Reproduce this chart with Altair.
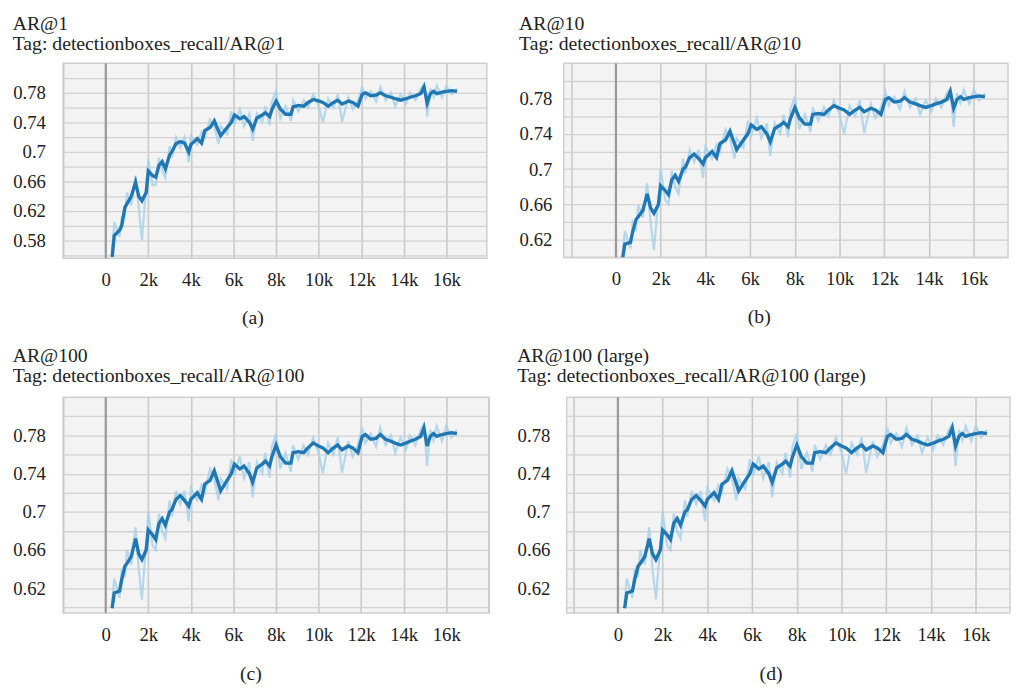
import altair as alt
import pandas as pd

FONT = "Liberation Serif"
FS = 19
TFS = 20

# training steps at which the curves were read
steps = [300, 400, 650, 750, 900, 1000, 1200, 1400, 1550, 1700,
         1900, 2000, 2200, 2350, 2500, 2650, 2800, 3000, 3100, 3300,
         3500, 3700, 3900, 4000, 4300, 4500, 4650, 4900, 5100, 5300,
         5400, 5700, 5900, 6050, 6300, 6500, 6750, 6900, 7100, 7350,
         7500, 7700, 7800, 8000, 8200, 8450, 8700, 8800, 9050, 9300,
         9500, 9750, 10000, 10200, 10450, 10700, 10900, 11100, 11400, 11600,
         11850, 12050, 12200, 12450, 12700, 12900, 13150, 13400, 13600, 13850,
         14100, 14300, 14550, 14800, 14950, 15100, 15250, 15400, 15550, 15800,
         16000, 16250, 16500]

# AR@1 (smoothed and raw)
ar1_smooth = [0.558, 0.587, 0.594, 0.600, 0.625, 0.630, 0.640, 0.659, 0.640, 0.634,
              0.645, 0.674, 0.668, 0.666, 0.682, 0.687, 0.677, 0.696, 0.700, 0.711,
              0.714, 0.712, 0.700, 0.710, 0.718, 0.712, 0.729, 0.733, 0.742, 0.728,
              0.722, 0.733, 0.740, 0.750, 0.745, 0.748, 0.740, 0.731, 0.746, 0.750,
              0.753, 0.748, 0.757, 0.769, 0.758, 0.751, 0.751, 0.761, 0.763, 0.762,
              0.767, 0.771, 0.769, 0.767, 0.762, 0.767, 0.770, 0.765, 0.769, 0.767,
              0.762, 0.778, 0.780, 0.776, 0.777, 0.780, 0.776, 0.774, 0.772, 0.770,
              0.772, 0.774, 0.776, 0.779, 0.788, 0.766, 0.779, 0.782, 0.779, 0.781,
              0.782, 0.783, 0.782]
ar1_raw = [0.565, 0.605, 0.585, 0.612, 0.615, 0.645, 0.628, 0.668, 0.625, 0.580,
           0.655, 0.690, 0.655, 0.655, 0.692, 0.675, 0.665, 0.708, 0.692, 0.720,
           0.706, 0.720, 0.686, 0.722, 0.710, 0.727, 0.719, 0.744, 0.734, 0.711,
           0.735, 0.724, 0.755, 0.738, 0.758, 0.735, 0.752, 0.715, 0.752, 0.740,
           0.762, 0.736, 0.768, 0.782, 0.745, 0.762, 0.742, 0.770, 0.755, 0.770,
           0.760, 0.778, 0.762, 0.740, 0.772, 0.760, 0.778, 0.741, 0.774, 0.758,
           0.770, 0.788, 0.772, 0.782, 0.768, 0.788, 0.770, 0.780, 0.762, 0.778,
           0.765, 0.780, 0.770, 0.786, 0.792, 0.748, 0.786, 0.775, 0.790, 0.774,
           0.790, 0.778, 0.786]

# AR@100 (smoothed and raw); AR@10 and AR@100 (large) read identically
ar100_smooth = [0.599, 0.615, 0.617, 0.629, 0.643, 0.646, 0.653, 0.672, 0.656, 0.650,
                0.660, 0.681, 0.676, 0.671, 0.688, 0.693, 0.686, 0.700, 0.702, 0.713,
                0.717, 0.712, 0.706, 0.713, 0.720, 0.713, 0.729, 0.733, 0.743, 0.729,
                0.722, 0.733, 0.740, 0.750, 0.745, 0.748, 0.740, 0.731, 0.746, 0.750,
                0.753, 0.748, 0.757, 0.770, 0.758, 0.751, 0.751, 0.762, 0.763, 0.762,
                0.767, 0.772, 0.769, 0.767, 0.762, 0.767, 0.770, 0.765, 0.769, 0.767,
                0.762, 0.779, 0.781, 0.776, 0.777, 0.781, 0.776, 0.774, 0.772, 0.770,
                0.772, 0.774, 0.776, 0.779, 0.788, 0.769, 0.779, 0.782, 0.779, 0.781,
                0.782, 0.783, 0.782]
ar100_raw = [0.605, 0.630, 0.610, 0.640, 0.632, 0.660, 0.645, 0.684, 0.640, 0.608,
             0.668, 0.700, 0.665, 0.660, 0.698, 0.680, 0.672, 0.712, 0.695, 0.722,
             0.708, 0.722, 0.690, 0.725, 0.712, 0.728, 0.720, 0.745, 0.735, 0.712,
             0.735, 0.724, 0.755, 0.738, 0.758, 0.735, 0.752, 0.715, 0.752, 0.740,
             0.762, 0.736, 0.768, 0.782, 0.745, 0.762, 0.742, 0.770, 0.755, 0.770,
             0.760, 0.778, 0.762, 0.740, 0.772, 0.760, 0.778, 0.741, 0.774, 0.758,
             0.770, 0.788, 0.772, 0.782, 0.768, 0.788, 0.770, 0.780, 0.762, 0.778,
             0.765, 0.780, 0.770, 0.786, 0.792, 0.748, 0.786, 0.775, 0.790, 0.774,
             0.790, 0.778, 0.786]

names = ["AR@1", "AR@10", "AR@100", "AR@100 (large)"]
tags = ["Tag: detectionboxes_recall/AR@1", "Tag: detectionboxes_recall/AR@10",
        "Tag: detectionboxes_recall/AR@100", "Tag: detectionboxes_recall/AR@100 (large)"]
captions = ["(a)", "(b)", "(c)", "(d)"]

x_ticks = [-2000, 0, 2000, 4000, 6000, 8000, 10000, 12000, 14000, 16000, 18000]
y_ticks_a = [0.56, 0.58, 0.60, 0.62, 0.64, 0.66, 0.68, 0.70, 0.72, 0.74, 0.76, 0.78, 0.80]
y_ticks_b = [0.60, 0.62, 0.64, 0.66, 0.68, 0.70, 0.72, 0.74, 0.76, 0.78, 0.80]

x_label_expr = ("datum.value < 0 || datum.value > 16000 ? '' : "
                "(datum.value == 0 ? '0' : (datum.value / 1000) + 'k')")
y_label_expr = "round(datum.value * 100) % 4 == 2 ? toString(round(datum.value * 100) / 100) : ''"


def panel(i, smooth, raw, width, height, xdom, ydom, yticks,
          ypad, xpad, cap_x, cap_pad, title_off):
    df = pd.DataFrame({"step": steps, "smooth": smooth, "raw": raw})
    xs = alt.Scale(domain=xdom, nice=False, zero=False)
    ys = alt.Scale(domain=ydom, nice=False, zero=False)
    xaxis = alt.Axis(values=x_ticks, tickCount=50, labelExpr=x_label_expr, grid=True,
                     ticks=False, domain=False, labelPadding=xpad, labelFont=FONT,
                     labelFontSize=FS, labelColor="#222222", labelOverlap=False,
                     labelFlush=False, gridColor="#c9c9c9", gridWidth=1.6,
                     title=captions[i], titleFont=FONT, titleFontSize=TFS,
                     titleFontWeight="normal", titleColor="#222222",
                     titlePadding=cap_pad, titleX=cap_x)
    yaxis = alt.Axis(values=yticks, tickCount=50, labelExpr=y_label_expr, grid=True,
                     ticks=False, domain=False, labelPadding=ypad, labelFont=FONT,
                     labelFontSize=FS, labelColor="#222222", labelOverlap=False,
                     labelFlush=False, gridColor="#d2d2d2", gridWidth=1.3, title=None)
    base = alt.Chart(df)
    raw_line = base.mark_line(color="#a8d1ea", strokeWidth=2.2, opacity=0.85, clip=True).encode(
        x=alt.X("step:Q", scale=xs, axis=xaxis),
        y=alt.Y("raw:Q", scale=ys, axis=yaxis),
    )
    smooth_line = base.mark_line(color="#1f77b4", strokeWidth=3.4, clip=True).encode(
        x=alt.X("step:Q", scale=xs),
        y=alt.Y("smooth:Q", scale=ys),
    )
    zero_rule = alt.Chart(pd.DataFrame({"z": [0]})).mark_rule(
        color="#9a9a9a", strokeWidth=2.2).encode(x=alt.X("z:Q", scale=xs))
    return alt.layer(raw_line, zero_rule, smooth_line).properties(
        width=width, height=height,
        title=alt.TitleParams(text=[names[i], tags[i]], anchor="start", frame="bounds",
                              font=FONT, fontSize=TFS, fontWeight="normal",
                              color="#222222", lineHeight=21, offset=title_off),
    )


pa = panel(0, ar1_smooth, ar1_raw, 430, 198, [-2000, 17900], [0.556, 0.82], y_ticks_a,
           18, 13, 192, 18, 8)
pb = panel(1, ar100_smooth, ar100_raw, 451, 197, [-2335, 17532], [0.60, 0.82], y_ticks_b,
           12, 13, 198, 18, 8)
pc = panel(2, ar100_smooth, ar100_raw, 432, 219, [-2000, 18000], [0.594, 0.82], y_ticks_b,
           18, 13, 190, 19, 10)
pd_ = panel(3, ar100_smooth, ar100_raw, 450, 219, [-2291, 17533], [0.594, 0.82], y_ticks_b,
            17, 13, 207, 19, 10)

chart = alt.vconcat(
    alt.hconcat(pa, pb, spacing=31),
    alt.hconcat(pc, pd_, spacing=27),
    spacing=17,
).properties(
    padding={"left": 4, "top": 0, "right": 0, "bottom": 0},
    background="white",
).configure_view(
    fill="#f3f3f3", stroke="#cfcfcf", strokeWidth=1.5,
)

chart.save("out.html", embed_options={"renderer": "svg", "actions": False})
